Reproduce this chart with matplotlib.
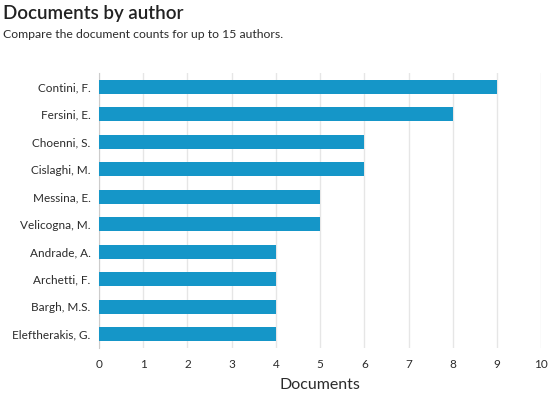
import matplotlib
matplotlib.use("Agg")
import matplotlib.pyplot as plt

authors = ["Contini, F.", "Fersini, E.", "Choenni, S.", "Cislaghi, M.", "Messina, E.",
           "Velicogna, M.", "Andrade, A.", "Archetti, F.", "Bargh, M.S.", "Eleftherakis, G."]
documents = [9, 8, 6, 6, 5, 5, 4, 4, 4, 4]
xticks = list(range(0, 11))

plt.rcParams['font.family'] = ['Lato', 'DejaVu Sans']

fig = plt.figure(figsize=(5.5, 3.95), dpi=100)
ax = fig.add_axes([0.18, 0.119, 0.804, 0.696])

ypos = list(range(len(authors)))
ax.barh(ypos, documents, height=0.5, color="#1596c8", zorder=3)
ax.set_ylim(len(authors) - 0.5, -0.5)
ax.set_xlim(0, 10)
ax.set_yticks(ypos)
ax.set_yticklabels(authors, fontsize=8.5, color="#2b2b2b")
ax.set_xticks(xticks)
ax.set_xticklabels([str(t) for t in xticks], fontsize=8.5, color="#2b2b2b")
ax.tick_params(axis="y", length=0, pad=6)
ax.tick_params(axis="x", length=0, pad=8)
ax.grid(axis="x", color="#e6e6e6", linewidth=1, zorder=0)
for s in ["top", "right", "bottom"]:
    ax.spines[s].set_visible(False)
ax.spines["left"].set_color("#cccccc")
ax.set_xlabel("Documents", fontsize=11.5, color="#2b2b2b", labelpad=6)

fig.text(0.006, 0.967, "Documents by author", fontsize=13.5, fontweight="semibold",
         color="#222222", va="center", ha="left")
fig.text(0.006, 0.912, "Compare the document counts for up to 15 authors.", fontsize=8.8,
         color="#2b2b2b", va="center", ha="left")

fig.savefig("out.png", dpi=100)
